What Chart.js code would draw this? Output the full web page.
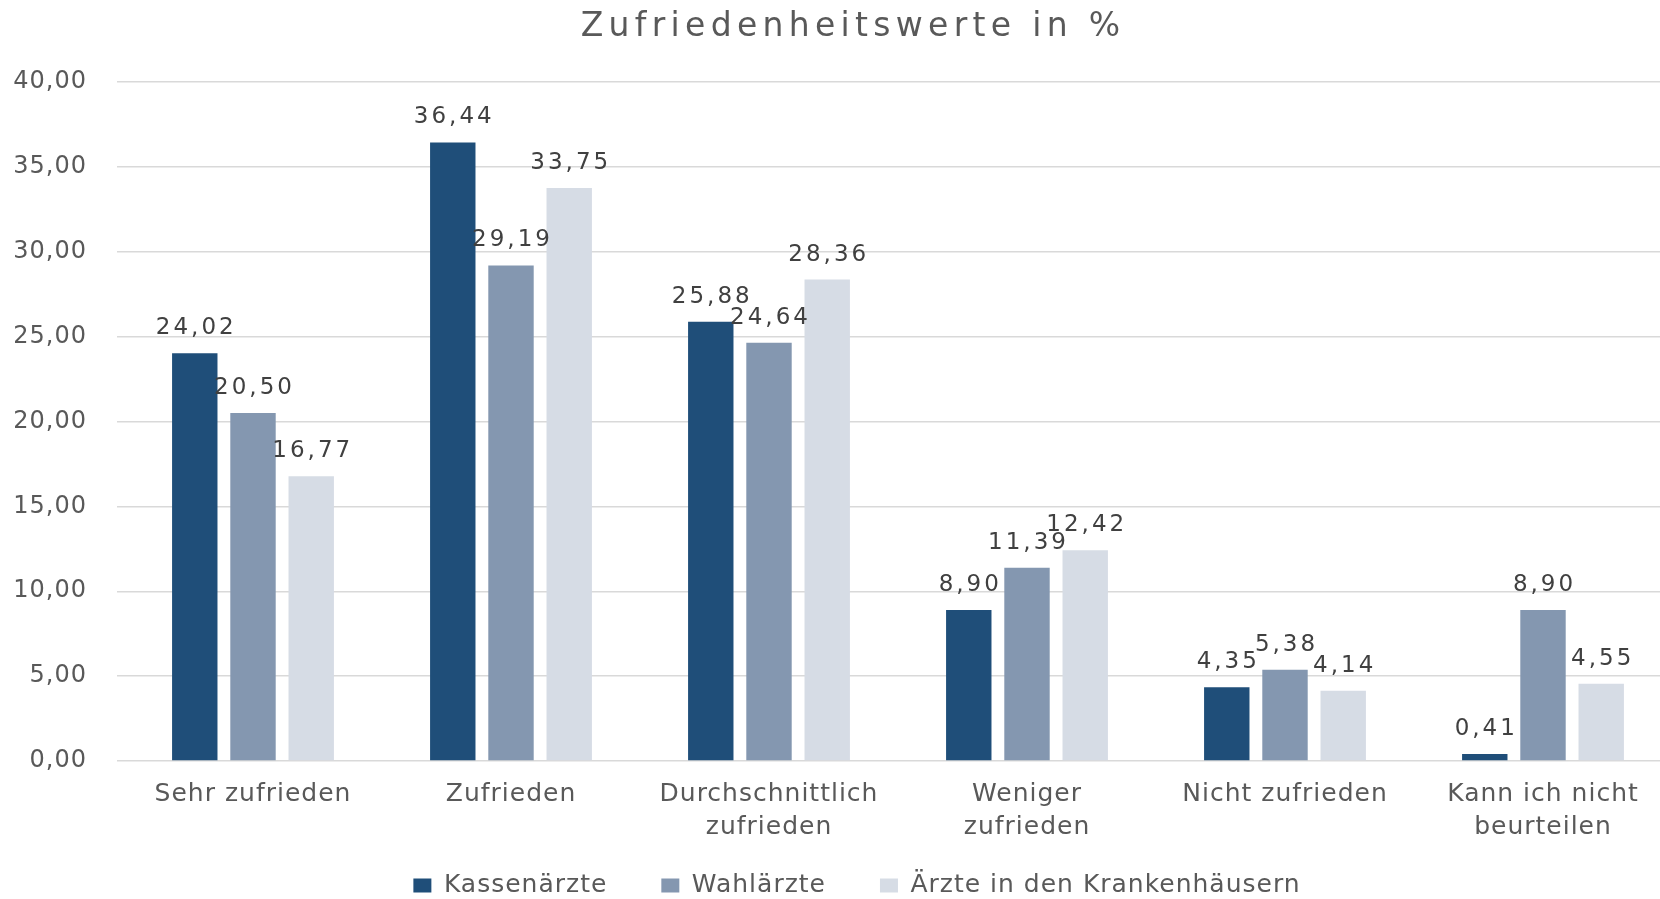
<!DOCTYPE html>
<html>
<head>
<meta charset="utf-8">
<script src="https://cdn.jsdelivr.net/npm/chart.js@4/dist/chart.umd.min.js"></script>
<style>
  html, body { margin: 0; padding: 0; background: #fff; overflow: hidden; }
  canvas { display: block; }
</style>
</head>
<body>
<canvas id="chart" width="1704" height="908"></canvas>
<script>
// Daten
const categories = ['Sehr zufrieden', 'Zufrieden', ['Durchschnittlich', 'zufrieden'], ['Weniger', 'zufrieden'], 'Nicht zufrieden', ['Kann ich nicht', 'beurteilen']];
const seriesNames = ['Kassenärzte', 'Wahlärzte', 'Ärzte in den Krankenhäusern'];
const kassenaerzte = [24.02, 36.44, 25.88, 8.90, 4.35, 0.41];
const wahlaerzte = [20.50, 29.19, 24.64, 11.39, 5.38, 8.90];
const krankenhaus = [16.77, 33.75, 28.36, 12.42, 4.14, 4.55];
const seriesColors = ['#1f4e79', '#8497b0', '#d6dce5'];
const chartTitle = 'Zufriedenheitswerte in %';
const yMin = 0, yMax = 40, yStep = 5;

const FONT = '"DejaVu Sans", sans-serif';
const fmt = v => v.toFixed(2).replace('.', ',');

// etwas Zeichenabstand wie im Original
const spacing = {
    id: 'spacing',
    beforeUpdate(chart) { chart.ctx.letterSpacing = '1px'; },
    beforeDraw(chart) { chart.ctx.letterSpacing = '1px'; }
};

// Titel selbst zeichnen (breiter Zeichenabstand)
const titlePlugin = {
    id: 'bigTitle',
    afterDraw(chart) {
        const ctx = chart.ctx;
        ctx.save();
        ctx.font = '33px ' + FONT;
        ctx.letterSpacing = '5.3px';
        ctx.fillStyle = '#595959';
        ctx.textAlign = 'center';
        ctx.textBaseline = 'alphabetic';
        ctx.fillText(chartTitle, 853, 36);
        ctx.restore();
    }
};

// Werte über den Balken
const valueLabels = {
    id: 'valueLabels',
    afterDatasetsDraw(chart) {
        const ctx = chart.ctx;
        ctx.save();
        ctx.font = '23px ' + FONT;
        ctx.letterSpacing = '3px';
        ctx.fillStyle = '#404040';
        ctx.textAlign = 'center';
        ctx.textBaseline = 'alphabetic';
        chart.data.datasets.forEach((ds, i) => {
            chart.getDatasetMeta(i).data.forEach((bar, j) => {
                ctx.fillText(fmt(ds.data[j]), bar.x + 1.5, bar.y - 19);
            });
        });
        ctx.restore();
    }
};

function makeDataset(label, data, color) {
    return {
        label: label,
        data: data,
        backgroundColor: color,
        borderWidth: 0,
        categoryPercentage: 0.677,
        barPercentage: 0.78
    };
}

new Chart(document.getElementById('chart').getContext('2d'), {
    type: 'bar',
    data: {
        labels: categories,
        datasets: [
            makeDataset(seriesNames[0], kassenaerzte, seriesColors[0]),
            makeDataset(seriesNames[1], wahlaerzte, seriesColors[1]),
            makeDataset(seriesNames[2], krankenhaus, seriesColors[2])
        ]
    },
    options: {
        responsive: false,
        animation: false,
        devicePixelRatio: 1,
        layout: { padding: { top: 82, left: 10, right: 0, bottom: 0 } },
        plugins: {
            title: { display: false },
            tooltip: { enabled: false },
            legend: {
                position: 'bottom',
                labels: {
                    boxWidth: 18,
                    boxHeight: 14,
                    padding: 28,
                    color: '#595959',
                    font: { family: FONT, size: 25 },
                    // mehr Abstand zwischen den Einträgen
                    generateLabels(chart) {
                        const items = Chart.defaults.plugins.legend.labels.generateLabels(chart);
                        items.forEach((it, i) => {
                            if (i < items.length - 1) it.text += '\u2003';
                        });
                        return items;
                    }
                }
            }
        },
        scales: {
            x: {
                grid: { display: false, drawTicks: false },
                border: { display: false },
                ticks: {
                    color: '#595959',
                    padding: 17,
                    maxRotation: 0,
                    autoSkip: false,
                    font: { family: FONT, size: 25, lineHeight: 1.32 }
                },
                afterFit(scale) { scale.height = 84; }
            },
            y: {
                min: yMin,
                max: yMax,
                border: { display: false },
                grid: { color: '#d9d9d9', lineWidth: 1.5, drawTicks: true, tickLength: 7 },
                ticks: {
                    stepSize: yStep,
                    color: '#595959',
                    padding: 30,
                    font: { family: FONT, size: 24 },
                    callback: v => fmt(v)
                },
                afterFit(scale) { scale.width = 114; }
            },
            // leere Achse rechts, damit die Legende wie im Original sitzt
            y2: {
                position: 'right',
                display: true,
                grid: { display: false },
                border: { display: false },
                ticks: { display: false },
                afterFit(scale) { scale.width = 32; }
            }
        }
    },
    plugins: [spacing, valueLabels, titlePlugin]
});
</script>
</body>
</html>
